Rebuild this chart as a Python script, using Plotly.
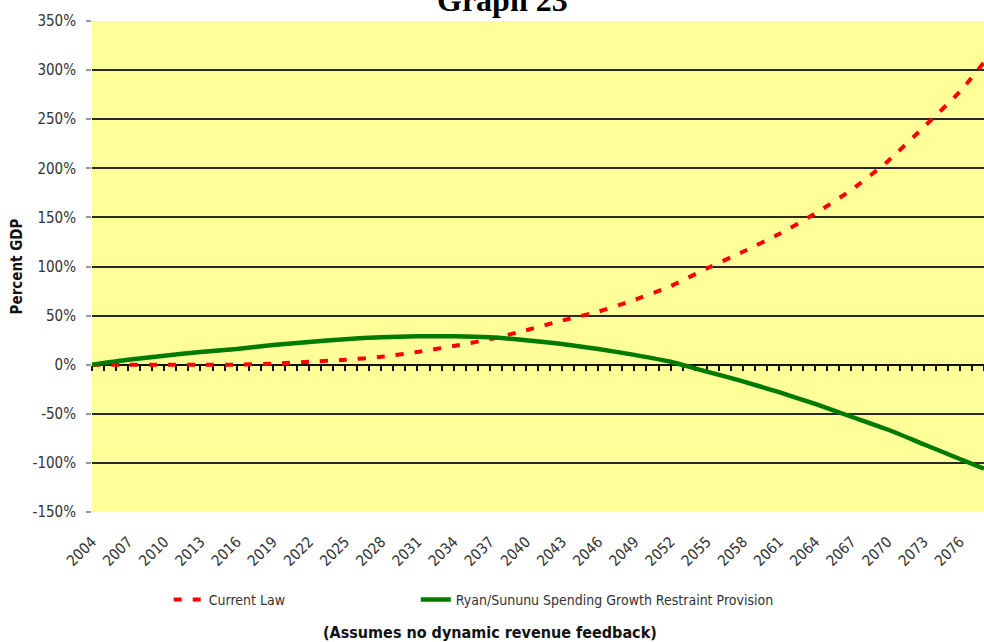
import plotly.graph_objects as go

# Years at which the projections are read (every third year, plus the end year)
years = [2004, 2007, 2010, 2013, 2016, 2019, 2022, 2025, 2028, 2031, 2034, 2037, 2040,
         2043, 2046, 2049, 2052, 2055, 2058, 2061, 2064, 2067, 2070, 2073, 2076, 2078]

# Debt as percent of GDP
current_law = [0, 0, 0, 0, 0, 1, 3, 5, 8, 13, 19, 26, 35,
               45, 54, 66, 80, 98, 115, 133, 154, 178, 207, 242, 278, 308]
ryan_sununu = [0, 5, 9, 13, 16, 20, 23, 26, 28, 29, 29, 28, 25,
               21, 16, 10, 3, -7, -17, -28, -40, -53, -66, -81, -96, -106]

y_ticks = [-150, -100, -50, 0, 50, 100, 150, 200, 250, 300, 350]
y_labels = [f"{v}%" for v in y_ticks]
x_label_years = list(range(2004, 2077, 3))

NARROW = "Liberation Sans Narrow, Arial Narrow, DejaVu Sans Condensed, sans-serif"
TEXT = "#333333"

fig = go.Figure()

fig.add_trace(go.Scatter(
    x=years, y=current_law, name="Current Law", mode="lines",
    line=dict(color="#FF0000", width=4, dash="8px,11px", shape="spline", smoothing=0.6),
    xaxis="x", yaxis="y", legend="legend",
))
fig.add_trace(go.Scatter(
    x=years, y=ryan_sununu, name="Ryan/Sununu Spending Growth Restraint Provision",
    mode="lines",
    line=dict(color="#007A00", width=4.5, shape="spline", smoothing=0.6),
    xaxis="x2", yaxis="y", legend="legend2",
))

x_range = [2004, 2078]
legend_common = dict(
    orientation="h", yanchor="middle", y=-0.179, xanchor="left",
    font=dict(family=NARROW, size=14, color=TEXT), bgcolor="rgba(0,0,0,0)",
)

fig.update_layout(
    width=984, height=642,
    margin=dict(l=92, r=0, t=21, b=130),
    paper_bgcolor="white",
    plot_bgcolor="#FFFF99",
    showlegend=True,
    legend=dict(legend_common, x=0.086),
    legend2=dict(legend_common, x=0.363),
    # zero line carrying a tick for every year
    xaxis=dict(
        range=x_range, anchor="free", position=0.3,
        showline=True, linecolor="#111111", linewidth=2,
        ticks="outside", ticklen=5, tickwidth=2, tickcolor="#111111",
        dtick=1, tick0=2004, showticklabels=False, showgrid=False, zeroline=False,
        layer="below traces",
    ),
    # bottom axis with the year labels
    xaxis2=dict(
        range=x_range, overlaying="x", side="bottom", anchor="y",
        tickmode="array", tickvals=x_label_years, ticktext=[str(v) for v in x_label_years],
        tickangle=-45, ticks="", ticklabelstandoff=17,
        tickfont=dict(family=NARROW, size=15, color=TEXT),
        showline=False, showgrid=False, zeroline=False,
    ),
    yaxis=dict(
        range=[-150, 350], tickmode="array", tickvals=y_ticks, ticktext=y_labels,
        tickfont=dict(family=NARROW, size=15, color=TEXT),
        ticks="outside", ticklen=5, tickcolor="#999999", tickwidth=2,
        showgrid=True, gridcolor="#2a2a2a", gridwidth=2,
        zeroline=False, showline=False, ticklabelstandoff=7,
        title=dict(text="<b>Percent GDP</b>", font=dict(family=NARROW, size=15, color="#111111"),
                   standoff=6),
    ),
    annotations=[
        dict(text="<b>Graph 23</b>", xref="paper", yref="paper", x=0.46, y=1,
             xanchor="center", yanchor="bottom", yshift=1, showarrow=False,
             font=dict(family="Liberation Serif, Times New Roman, serif", size=32, color="#000000")),
        dict(text="<b>(Assumes no dynamic revenue feedback)</b>", xref="paper", yref="paper",
             x=0.446, y=-0.246, xanchor="center", yanchor="middle", showarrow=False,
             font=dict(family=NARROW, size=16, color="#111111")),
    ],
)

fig.write_html("out.html")
